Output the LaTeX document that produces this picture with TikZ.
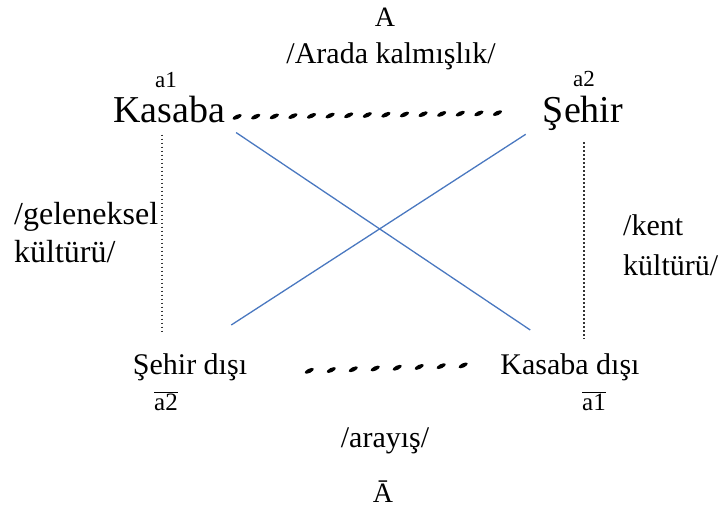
\documentclass[tikz,border=0pt]{standalone}
\usepackage{fontspec}
\setmainfont{Liberation Serif}
\usetikzlibrary{decorations.markings}
\definecolor{xblue}{HTML}{4A78C0}
\definecolor{dotgray}{HTML}{333333}
\tikzset{
  lbl/.style={inner sep=0pt, anchor=base, text=black},
  fs/.style={font=\fontsize{#1}{#1}\selectfont},
  pendash/.style={decoration={markings,
      mark=between positions 5pt and -4pt step #1 with {\fill[black,rotate=24] (0pt,0pt) ellipse [x radius=5pt, y radius=2.1pt];}},
      decorate},
  diag/.style={draw=xblue, line width=1.3pt},
  vdots/.style={draw=dotgray, line width=2pt, dash pattern=on 1.6pt off 2.4pt}
}
\begin{document}
\begin{tikzpicture}[x=1pt,y=-1pt]
\useasboundingbox (0,0) rectangle (723,516);

\node[lbl,fs=28] (A) at (385,27) {A};
\node[lbl,fs=30] (arada) at (391,64) {/Arada kalmışlık/};
\node[lbl,fs=23] (a1) at (166,88) {a1};
\node[lbl,fs=38] (kas) at (169,123) {Kasaba};
\node[lbl,fs=23] (a2) at (584,87) {a2};
\node[lbl,fs=38] (seh) at (583,123) {Şehir};

\node[lbl,fs=32,anchor=base west] (gel1) at (14,224) {/geleneksel};
\node[lbl,fs=32,anchor=base west] (gel2) at (14,262) {kültürü/};
\node[lbl,fs=30,anchor=base west] (kent1) at (623,235) {/kent};
\node[lbl,fs=30,anchor=base west] (kent2) at (623,275) {kültürü/};

\node[lbl,fs=30] (sd) at (190,374) {Şehir dışı};
\node[lbl,fs=30] (kd) at (570,374) {Kasaba dışı};
\node[lbl,fs=25] (o2) at (166,410) {$\overline{\mbox{a2}}$};
\node[lbl,fs=25] (o1) at (594,410) {$\overline{\mbox{a1}}$};
\node[lbl,fs=30] (aray) at (385,447) {/arayış/};
\node[lbl,fs=28] (Abar) at (383,502) {Ā};

% pen-like dashed connectors
\path[pendash=18.6pt] ([xshift=7pt,yshift=6pt]kas.base east) -- ([xshift=-37pt,yshift=10pt]seh.base west);
\path[pendash=22pt] ([xshift=57pt,yshift=3pt]sd.base east) -- ([xshift=-26pt,yshift=9pt]kd.base west);

% crossing blue lines
\draw[diag] ([xshift=11pt,yshift=-9pt]kas.south east) -- ([xshift=30pt,yshift=23pt]kd.north west);
\draw[diag] ([xshift=-17pt,yshift=-3pt]seh.south west) -- ([xshift=-16pt,yshift=28pt]sd.north east);

% dotted verticals
\draw[vdots] ([xshift=-7pt,yshift=-11pt]kas.south) -- ([xshift=-4pt,yshift=58pt]o2.north);
\draw[vdots] ([xshift=1pt,yshift=-11pt]seh.south) -- ([xshift=-10pt,yshift=52pt]o1.north);
\end{tikzpicture}
\end{document}
